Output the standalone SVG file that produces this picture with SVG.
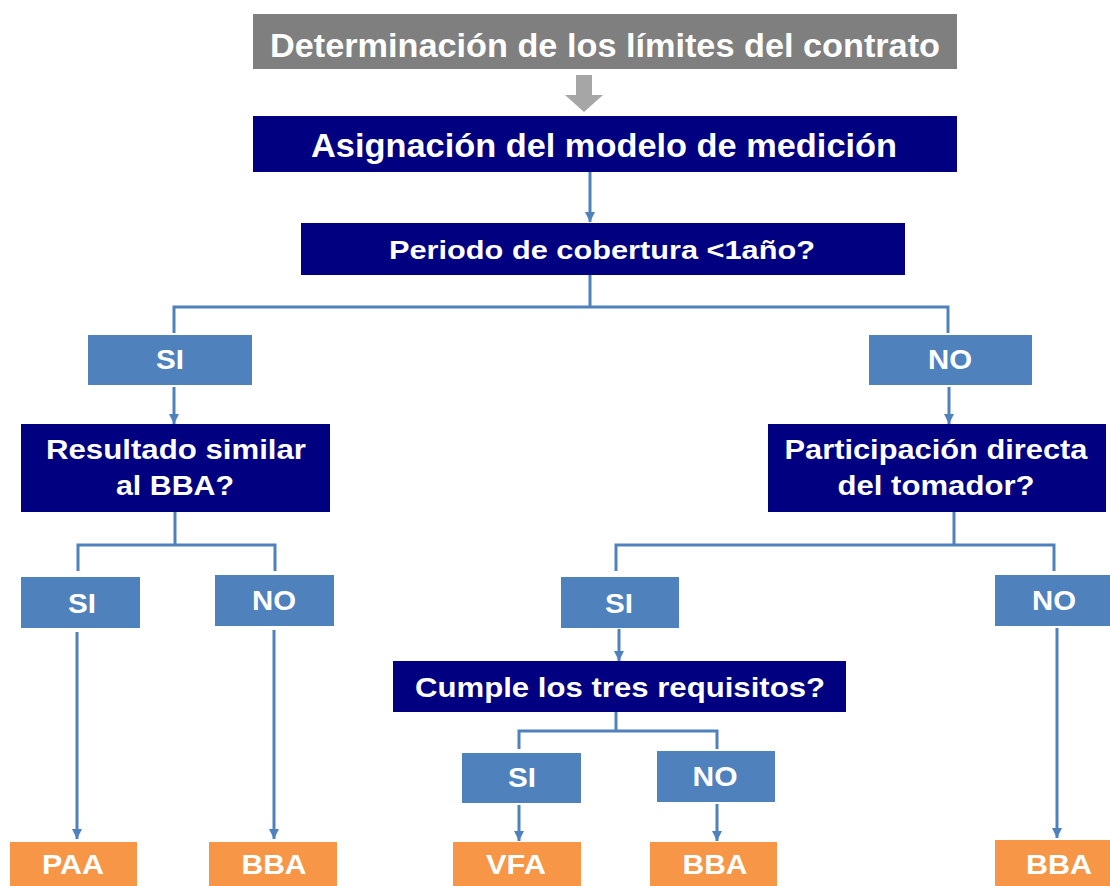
<svg xmlns="http://www.w3.org/2000/svg" width="1110" height="886" viewBox="0 0 1110 886">
<defs>
<style>
.t{font-family:"Liberation Sans",Arial,sans-serif;font-weight:bold;fill:#fff;text-anchor:middle}
.gray{fill:#7F7F7F}
.navy{fill:#000080}
.blue{fill:#4F81BD}
.orange{fill:#F79646}
.c{fill:none;stroke:#4F81BD;stroke-width:3}
</style>
<marker id="ah" markerUnits="userSpaceOnUse" markerWidth="12" markerHeight="12" refX="10" refY="5" orient="auto">
<path d="M0,0 L10,5 L0,10 z" fill="#4F81BD"/>
</marker>
</defs>
<rect width="1110" height="886" fill="#fff"/>

<g id="connectors">
<polygon points="576,75 592,75 592,95 603,95 584,112 565,95 576,95" fill="#A6A6A6"/>
<line class="c" x1="590" y1="172" x2="590" y2="222" marker-end="url(#ah)"/>
<path class="c" d="M590,275 V307 M174,333 V307 H948 V333"/>
<line class="c" x1="174" y1="387" x2="174" y2="424" marker-end="url(#ah)"/>
<line class="c" x1="949" y1="387" x2="949" y2="424" marker-end="url(#ah)"/>
<path class="c" d="M175,512 V545 M78,571 V545 H275 V571"/>
<path class="c" d="M954,512 V545 M616,571 V545 H1054 V571"/>
<line class="c" x1="77" y1="632" x2="77" y2="839" marker-end="url(#ah)"/>
<line class="c" x1="274" y1="630" x2="274" y2="839" marker-end="url(#ah)"/>
<line class="c" x1="619" y1="629" x2="619" y2="661" marker-end="url(#ah)"/>
<line class="c" x1="1057" y1="628" x2="1057" y2="838" marker-end="url(#ah)"/>
<path class="c" d="M616,712 V731 M519,749 V731 H717 V749"/>
<line class="c" x1="519" y1="805" x2="519" y2="841" marker-end="url(#ah)"/>
<line class="c" x1="717" y1="804" x2="717" y2="841" marker-end="url(#ah)"/>
</g>

<g id="n-limites"><rect class="gray" x="253" y="14" width="704" height="55"/>
<text class="t" x="605" y="57" font-size="34" textLength="670" lengthAdjust="spacingAndGlyphs">Determinación de los límites del contrato</text></g>

<g id="n-asignacion"><rect class="navy" x="253" y="116" width="704" height="56"/>
<text class="t" x="604" y="157" font-size="33" textLength="586" lengthAdjust="spacingAndGlyphs">Asignación del modelo de medición</text></g>

<g id="n-periodo"><rect class="navy" x="301" y="223" width="604" height="52"/>
<text class="t" x="602" y="259" font-size="26" textLength="426" lengthAdjust="spacingAndGlyphs">Periodo de cobertura &lt;1año?</text></g>

<g id="n-si1"><rect class="blue" x="88" y="335" width="164" height="50"/>
<text class="t" x="170" y="369" font-size="27" textLength="28" lengthAdjust="spacingAndGlyphs">SI</text></g>

<g id="n-no1"><rect class="blue" x="869" y="335" width="163" height="50"/>
<text class="t" x="950" y="369" font-size="27" textLength="44" lengthAdjust="spacingAndGlyphs">NO</text></g>

<g id="n-resultado"><rect class="navy" x="21" y="424" width="309" height="88"/>
<text class="t" x="176" y="459" font-size="27" textLength="260" lengthAdjust="spacingAndGlyphs">Resultado similar</text>
<text class="t" x="175" y="495" font-size="27" textLength="118" lengthAdjust="spacingAndGlyphs">al BBA?</text></g>

<g id="n-participacion"><rect class="navy" x="768" y="424" width="338" height="88"/>
<text class="t" x="936" y="459" font-size="27" textLength="303" lengthAdjust="spacingAndGlyphs">Participación directa</text>
<text class="t" x="936" y="495" font-size="27" textLength="197" lengthAdjust="spacingAndGlyphs">del tomador?</text></g>

<g id="n-si2l"><rect class="blue" x="21" y="577" width="119" height="51"/>
<text class="t" x="82" y="613" font-size="27" textLength="28" lengthAdjust="spacingAndGlyphs">SI</text></g>

<g id="n-no2l"><rect class="blue" x="215" y="575" width="119" height="51"/>
<text class="t" x="274" y="610" font-size="27" textLength="44" lengthAdjust="spacingAndGlyphs">NO</text></g>

<g id="n-si2r"><rect class="blue" x="561" y="577" width="118" height="51"/>
<text class="t" x="619" y="613" font-size="27" textLength="28" lengthAdjust="spacingAndGlyphs">SI</text></g>

<g id="n-no2r"><rect class="blue" x="995" y="575" width="115" height="51"/>
<text class="t" x="1054" y="610" font-size="27" textLength="44" lengthAdjust="spacingAndGlyphs">NO</text></g>

<g id="n-cumple"><rect class="navy" x="393" y="661" width="453" height="51"/>
<text class="t" x="620" y="697" font-size="27" textLength="410" lengthAdjust="spacingAndGlyphs">Cumple los tres requisitos?</text></g>

<g id="n-si3"><rect class="blue" x="462" y="753" width="119" height="50"/>
<text class="t" x="522" y="787" font-size="27" textLength="28" lengthAdjust="spacingAndGlyphs">SI</text></g>

<g id="n-no3"><rect class="blue" x="657" y="751" width="118" height="51"/>
<text class="t" x="715" y="786" font-size="27" textLength="45" lengthAdjust="spacingAndGlyphs">NO</text></g>

<g id="n-paa"><rect class="orange" x="10" y="842" width="127" height="44"/>
<text class="t" x="73" y="874" font-size="28" textLength="62" lengthAdjust="spacingAndGlyphs">PAA</text></g>

<g id="n-bba1"><rect class="orange" x="209" y="842" width="128" height="44"/>
<text class="t" x="274" y="874" font-size="28" textLength="65" lengthAdjust="spacingAndGlyphs">BBA</text></g>

<g id="n-vfa"><rect class="orange" x="453" y="842" width="128" height="44"/>
<text class="t" x="516" y="874" font-size="28" textLength="60" lengthAdjust="spacingAndGlyphs">VFA</text></g>

<g id="n-bba2"><rect class="orange" x="650" y="842" width="127" height="44"/>
<text class="t" x="715" y="874" font-size="28" textLength="65" lengthAdjust="spacingAndGlyphs">BBA</text></g>

<g id="n-bba3"><rect class="orange" x="995" y="840" width="115" height="46"/>
<text class="t" x="1059" y="874" font-size="28" textLength="66" lengthAdjust="spacingAndGlyphs">BBA</text></g>
</svg>
